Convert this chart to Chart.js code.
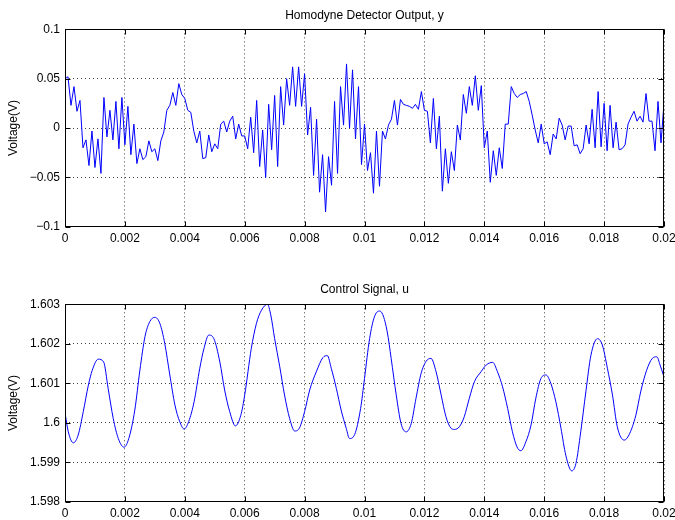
<!DOCTYPE html>
<html>
<head>
<meta charset="utf-8">
<title>Homodyne detector and control signal</title>
<script src="https://cdn.jsdelivr.net/npm/chart.js@4"></script>
<style>
  html, body { margin: 0; padding: 0; background: #fff; }
  #wrap { position: relative; width: 675px; height: 520px; overflow: hidden; background: #fff; }
  canvas { position: absolute; left: 0; display: block; }
</style>
</head>
<body>
<div id="wrap">
  <canvas id="yPlot" width="675" height="260" style="top:0;width:675px;height:260px"></canvas>
  <canvas id="uPlot" width="675" height="260" style="top:260px;width:675px;height:260px"></canvas>
</div>
<script>
// Sampling interval of the detector record (s)
const sampleStep = 0.0001;

// Homodyne detector output y (V), one value per sample from t = 0 to 0.02 s
const detectorOutput = [
  0.050, 0.052, 0.023, 0.042, 0.017, 0.028, -0.020, -0.012, -0.038, -0.003,
  -0.040, -0.011, -0.046, 0.031, -0.009, 0.018, -0.012, 0.027, -0.021, 0.031,
  -0.017, 0.022, -0.027, 0.004, -0.036, -0.021, -0.032, -0.029, -0.013, -0.024,
  -0.021, -0.033, -0.013, -0.004, 0.018, 0.023, 0.036, 0.023, 0.045, 0.034,
  0.030, 0.018, 0.016, -0.003, -0.015, -0.003, -0.031, -0.030, -0.007, -0.024,
  -0.016, -0.021, 0.004, 0.007, -0.004, 0.007, 0.012, -0.011, 0.004, -0.008,
  -0.008, -0.021, 0.011, -0.025, 0.028, -0.039, -0.002, -0.050, 0.024, -0.022,
  0.033, -0.039, 0.042, 0.003, 0.050, 0.023, 0.062, 0.022, 0.062, 0.022,
  0.055, -0.007, 0.021, -0.048, 0.009, -0.065, -0.027, -0.085, -0.029, -0.058,
  0.027, -0.046, 0.042, 0.003, 0.065, 0.000, 0.059, -0.011, 0.042, -0.037,
  0.004, -0.043, -0.025, -0.066, -0.003, -0.059, -0.003, -0.011, 0.003, 0.009,
  0.028, 0.003, 0.029, 0.024, 0.023, 0.022, 0.020, 0.024, 0.019, 0.037,
  0.018, 0.017, -0.015, 0.030, -0.021, 0.012, -0.064, -0.021, -0.056, -0.024,
  -0.043, 0.003, -0.012, 0.034, 0.015, 0.042, 0.023, 0.053, 0.018, 0.043,
  -0.020, -0.003, -0.055, -0.023, -0.048, -0.020, -0.041, 0.004, 0.004, 0.042,
  0.035, 0.031, 0.034, 0.035, 0.037, 0.027, 0.013, -0.002, -0.015, 0.004,
  -0.016, -0.014, -0.027, -0.006, -0.011, 0.010, 0.003, -0.012, 0.002, 0.002,
  -0.018, -0.017, -0.026, -0.021, 0.003, -0.016, 0.019, -0.020, 0.037, -0.019,
  0.025, -0.023, 0.023, -0.020, 0.006, -0.022, -0.021, -0.017, 0.004, 0.011,
  0.017, 0.007, 0.012, 0.006, 0.035, 0.007, 0.007, -0.023, 0.027, -0.015,
  0.025
];

// Control signal u: time stamps (s) and values (V)
const controlTime = [
  0, 0.00011, 0.00028, 0.00044, 0.00061, 0.00078, 0.00091, 0.00111, 0.00129, 0.00144,
  0.00161, 0.00178, 0.00197, 0.00213, 0.00233, 0.00250, 0.00267, 0.00283, 0.00300, 0.00317,
  0.00333, 0.00350, 0.00367, 0.00383, 0.00398, 0.00413, 0.00431, 0.00450, 0.00464, 0.00480,
  0.00497, 0.00517, 0.00533, 0.00550, 0.00569, 0.00587, 0.00600, 0.00622, 0.00639, 0.00656,
  0.00676, 0.00687, 0.00700, 0.00717, 0.00733, 0.00750, 0.00767, 0.00783, 0.00800, 0.00817,
  0.00839, 0.00861, 0.00876, 0.00889, 0.00906, 0.00922, 0.00939, 0.00950, 0.00967, 0.00987,
  0.01000, 0.01017, 0.01033, 0.01050, 0.01061, 0.01076, 0.01089, 0.01106, 0.01122, 0.01139,
  0.01156, 0.01172, 0.01189, 0.01206, 0.01222, 0.01239, 0.01256, 0.01272, 0.01289, 0.01300,
  0.01317, 0.01333, 0.01350, 0.01367, 0.01389, 0.01406, 0.01428, 0.01444, 0.01461, 0.01478,
  0.01494, 0.01509, 0.01522, 0.01539, 0.01556, 0.01572, 0.01589, 0.01606, 0.01622, 0.01639,
  0.01656, 0.01672, 0.01692, 0.01706, 0.01722, 0.01739, 0.01756, 0.01778, 0.01794, 0.01811,
  0.01828, 0.01844, 0.01867, 0.01883, 0.01906, 0.01922, 0.01942, 0.01961, 0.01976, 0.01987,
  0.02000
];
const controlSignal = [
  1.60025, 1.59977, 1.59949, 1.59969, 1.60028, 1.60095, 1.60133, 1.60161, 1.60154, 1.60087,
  1.60011, 1.59960, 1.59938, 1.59960, 1.60032, 1.60133, 1.60218, 1.60256, 1.60267, 1.60251,
  1.60201, 1.60121, 1.60045, 1.60003, 1.59984, 1.60003, 1.60053, 1.60138, 1.60188, 1.60222,
  1.60213, 1.60154, 1.60083, 1.60028, 1.59992, 1.60019, 1.60070, 1.60188, 1.60251, 1.60285,
  1.60300, 1.60273, 1.60213, 1.60142, 1.60070, 1.60011, 1.59979, 1.59987, 1.60028, 1.60083,
  1.60129, 1.60165, 1.60170, 1.60138, 1.60087, 1.60032, 1.59986, 1.59960, 1.59970, 1.60036,
  1.60112, 1.60213, 1.60268, 1.60283, 1.60274, 1.60230, 1.60163, 1.60070, 1.59998, 1.59977,
  1.59998, 1.60062, 1.60125, 1.60156, 1.60163, 1.60129, 1.60070, 1.60015, 1.59986, 1.59983,
  1.59990, 1.60015, 1.60062, 1.60104, 1.60129, 1.60146, 1.60153, 1.60129, 1.60091, 1.60036,
  1.59977, 1.59939, 1.59929, 1.59952, 1.59994, 1.60062, 1.60112, 1.60121, 1.60100, 1.60053,
  1.59986, 1.59918, 1.59878, 1.59897, 1.59977, 1.60078, 1.60171, 1.60213, 1.60197, 1.60138,
  1.60070, 1.59990, 1.59956, 1.59969, 1.60019, 1.60078, 1.60133, 1.60163, 1.60167, 1.60146,
  1.60116
];

// Axis ticks and their labels
const timeTicks = [0, 0.002, 0.004, 0.006, 0.008, 0.01, 0.012, 0.014, 0.016, 0.018, 0.02];
const timeTickLabels = ['0', '0.002', '0.004', '0.006', '0.008', '0.01', '0.012', '0.014', '0.016', '0.018', '0.02'];
const yTicks = [-0.1, -0.05, 0, 0.05, 0.1];
const yTickLabels = ['\u22120.1', '\u22120.05', '0', '0.05', '0.1'];
const uTicks = [1.598, 1.599, 1.6, 1.601, 1.602, 1.603];
const uTickLabels = ['1.598', '1.599', '1.6', '1.601', '1.602', '1.603'];

Chart.defaults.font.family = "'Liberation Sans', Arial, Helvetica, sans-serif";
Chart.defaults.font.size = 12;
Chart.defaults.color = '#000';

// Box around the axes with short inward tick marks on all four sides
const axesBox = {
  id: 'axesBox',
  afterDraw(chart) {
    const { ctx, chartArea: a, scales: { x, y } } = chart;
    const L = Math.round(a.left) + 0.5, R = Math.round(a.right) - 0.5;
    const T = Math.round(a.top) + 0.5, B = Math.round(a.bottom) - 0.5;
    const len = 5;
    ctx.save();
    ctx.strokeStyle = '#000';
    ctx.lineWidth = 1;
    ctx.beginPath();
    x.ticks.forEach(t => {
      const p = Math.round(x.getPixelForValue(t.value)) + 0.5;
      ctx.moveTo(p, B); ctx.lineTo(p, B - len);
      ctx.moveTo(p, T); ctx.lineTo(p, T + len);
    });
    y.ticks.forEach(t => {
      const p = Math.round(y.getPixelForValue(t.value)) + 0.5;
      ctx.moveTo(L, p); ctx.lineTo(L + len, p);
      ctx.moveTo(R, p); ctx.lineTo(R - len, p);
    });
    ctx.stroke();
    ctx.strokeRect(L, T, R - L, B - T);
    ctx.restore();
  }
};

const gridStyle = { color: 'rgba(0,0,0,0.75)', lineWidth: 1, drawTicks: false };
const borderStyle = { display: false, dash: [1, 3] };

function makePlot(canvasId, titleText, titlePad, xAxisHeight, dataset, yMin, yMax, yTickValues, yLabels) {
  return new Chart(document.getElementById(canvasId), {
    type: 'line',
    data: { datasets: [dataset] },
    plugins: [axesBox],
    options: {
      responsive: false,
      animation: false,
      devicePixelRatio: 1,
      layout: { autoPadding: false, padding: { left: 0, right: 11, top: 0, bottom: 0 } },
      plugins: {
        legend: { display: false },
        tooltip: { enabled: false },
        title: {
          display: true,
          text: titleText,
          fullSize: false,
          color: '#000',
          font: { size: 12, weight: 'normal' },
          padding: titlePad
        }
      },
      scales: {
        x: {
          type: 'linear',
          min: 0,
          max: 0.02,
          afterBuildTicks: s => { s.ticks = timeTicks.map(v => ({ value: v })); },
          ticks: {
            autoSkip: false, maxRotation: 0, minRotation: 0, padding: 5, color: '#000',
            callback: (v, i) => timeTickLabels[i]
          },
          grid: gridStyle,
          border: borderStyle,
          afterFit: s => {
            s.height = xAxisHeight;
            s.paddingLeft = 0;
            s.paddingRight = 0;
          }
        },
        y: {
          type: 'linear',
          min: yMin,
          max: yMax,
          afterBuildTicks: s => { s.ticks = yTickValues.map(v => ({ value: v })); },
          ticks: { padding: 5, color: '#000', callback: (v, i) => yLabels[i] },
          grid: gridStyle,
          border: borderStyle,
          title: {
            display: true,
            text: 'Voltage(V)',
            color: '#000',
            font: { size: 12 },
            padding: { top: 6, bottom: 0 }
          },
          afterFit: s => {
            s.width = 65;
            s.paddingTop = 0;
            s.paddingBottom = 0;
          }
        }
      }
    }
  });
}

makePlot(
  'yPlot', 'Homodyne Detector Output, y', { top: 8, bottom: 7 }, 33.3,
  {
    data: detectorOutput.map((v, i) => ({ x: i * sampleStep, y: v })),
    borderColor: '#0000ff',
    borderWidth: 1,
    pointRadius: 0,
    tension: 0,
    fill: false
  },
  -0.1, 0.1, yTicks, yTickLabels
);

makePlot(
  'uPlot', 'Control Signal, u', { top: 22.8, bottom: 7.1 }, 18.3,
  {
    data: controlTime.map((t, i) => ({ x: t, y: controlSignal[i] })),
    borderColor: '#0000ff',
    borderWidth: 1,
    pointRadius: 0,
    cubicInterpolationMode: 'monotone',
    fill: false
  },
  1.598, 1.603, uTicks, uTickLabels
);
</script>
</body>
</html>
